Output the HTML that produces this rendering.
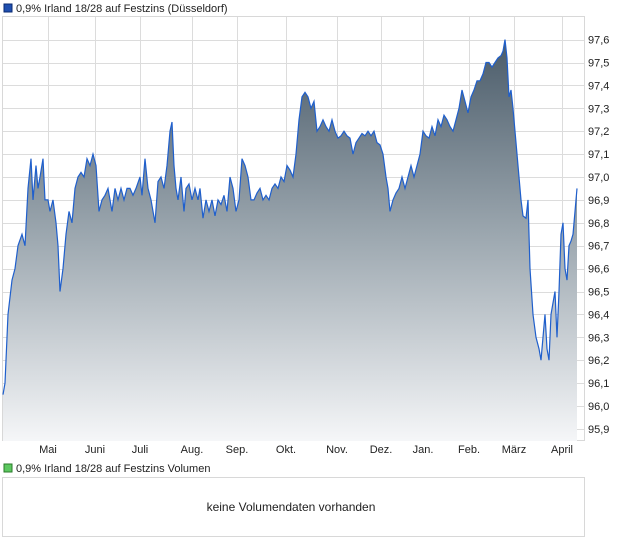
<!DOCTYPE html>
<html><head><meta charset="utf-8"><style>
body{margin:0;background:#fff;width:620px;height:546px;overflow:hidden;font-family:"Liberation Sans",sans-serif;}
svg text{font-family:"Liberation Sans",sans-serif;font-size:11px;fill:#222;}
</style></head><body>
<svg id="s" width="620" height="546" xmlns="http://www.w3.org/2000/svg">
<defs><linearGradient id="g" x1="0" y1="39" x2="0" y2="441" gradientUnits="userSpaceOnUse">
<stop offset="0" stop-color="#4a5b69"/><stop offset="0.5" stop-color="#9ea9b1"/><stop offset="1" stop-color="#f5f6f8"/></linearGradient></defs>
<rect x="4" y="4" width="8" height="8" fill="#1f4fb0" stroke="#0a2a70" stroke-width="1"/>
<text x="16" y="12">0,9% Irland 18/28 auf Festzins (Düsseldorf)</text>
<g id="grid" stroke="#dcdcdc" stroke-width="1"></g>
<rect x="2.5" y="16.5" width="582" height="424" fill="none" stroke="#d8d8d8"/>
<path id="area" fill="url(#g)"/>
<path id="line" fill="none" stroke="#1f5fcc" stroke-width="1.2"/>
<g id="yl"></g>
<g id="xl"></g>
<rect x="4" y="464" width="8" height="8" fill="#5cc860" stroke="#2a7a2a" stroke-width="1"/>
<text x="16" y="472">0,9% Irland 18/28 auf Festzins Volumen</text>
<rect x="2.5" y="477.5" width="582" height="59" fill="#fff" stroke="#d8d8d8"/>
<text x="291" y="511" text-anchor="middle" style="font-size:12px">keine Volumendaten vorhanden</text>
</svg>
<script>
var d=[3,96.05,5,96.1,8,96.4,12,96.55,15,96.6,18,96.7,22,96.75,25,96.7,28,96.95,31,97.08,33,96.9,36,97.05,38,96.95,40,97.0,43,97.08,45,96.9,48,96.9,50,96.85,53,96.9,56,96.8,58,96.7,60,96.5,63,96.6,66,96.75,69,96.85,72,96.8,75,96.95,78,97.0,81,97.02,84,97.0,87,97.08,90,97.05,93,97.1,96,97.05,99,96.85,102,96.9,105,96.92,108,96.95,112,96.85,115,96.95,118,96.9,121,96.95,124,96.9,127,96.95,130,96.95,133,96.92,136,96.95,140,97.0,142,96.92,145,97.08,148,96.95,151,96.9,153,96.85,155,96.8,158,96.98,161,97.0,164,96.95,167,97.05,170,97.2,172,97.24,174,97.05,176,96.95,178,96.9,181,97.0,184,96.85,186,96.95,189,96.97,192,96.9,195,96.95,198,96.9,200,96.95,203,96.82,206,96.9,209,96.85,212,96.9,215,96.83,218,96.9,221,96.88,224,96.92,227,96.85,230,97.0,233,96.95,236,96.85,239,96.9,242,97.08,245,97.05,248,97.0,251,96.9,254,96.9,257,96.93,260,96.95,263,96.9,266,96.92,269,96.9,272,96.95,275,96.97,278,96.95,281,97.0,284,96.98,287,97.05,290,97.03,293,97.0,296,97.1,299,97.25,302,97.35,305,97.37,308,97.35,311,97.3,314,97.33,317,97.2,320,97.22,323,97.25,326,97.22,329,97.2,332,97.25,335,97.2,338,97.17,341,97.18,344,97.2,347,97.18,350,97.17,353,97.1,356,97.15,359,97.17,362,97.19,365,97.18,368,97.2,371,97.18,374,97.2,377,97.15,380,97.14,383,97.1,386,97.0,388,96.95,390,96.85,393,96.9,396,96.93,399,96.95,402,97.0,405,96.95,408,97.0,411,97.05,414,97.0,417,97.05,420,97.1,423,97.2,426,97.18,429,97.17,432,97.22,435,97.18,438,97.25,441,97.22,444,97.27,447,97.25,450,97.22,453,97.2,456,97.25,459,97.3,462,97.38,465,97.33,468,97.28,471,97.35,474,97.38,477,97.42,480,97.42,483,97.45,486,97.5,489,97.5,492,97.48,495,97.5,498,97.52,501,97.53,503,97.55,505,97.6,507,97.52,509,97.35,511,97.38,513,97.3,515,97.2,517,97.1,519,97.0,521,96.9,523,96.83,526,96.82,528,96.9,530,96.6,533,96.4,536,96.3,539,96.25,541,96.2,543,96.3,545,96.4,547,96.25,549,96.2,551,96.4,553,96.45,555,96.5,557,96.3,559,96.5,561,96.75,563,96.8,565,96.6,567,96.55,569,96.7,571,96.72,573,96.75,575,96.85,577,96.95];
function Y(v){return 177-(v-97.0)*229;}
var p="";for(var i=0;i<d.length;i+=2){p+=(i?"L":"M")+d[i]+" "+Y(d[i+1]).toFixed(1);}
document.getElementById("line").setAttribute("d",p);
document.getElementById("area").setAttribute("d",p+"L577 441L3 441Z");
var ns="http://www.w3.org/2000/svg",g=document.getElementById("grid"),yl=document.getElementById("yl"),xl=document.getElementById("xl");
var xs=[48,95,140,192,237,286,337,381,423,469,514,562],ms=["Mai","Juni","Juli","Aug.","Sep.","Okt.","Nov.","Dez.","Jan.","Feb.","März","April"];
xs.forEach(function(x,i){var l=document.createElementNS(ns,"line");l.setAttribute("x1",x+.5);l.setAttribute("x2",x+.5);l.setAttribute("y1",16);l.setAttribute("y2",441);g.appendChild(l);
var t=document.createElementNS(ns,"text");t.setAttribute("x",x);t.setAttribute("y",453);t.setAttribute("text-anchor","middle");t.textContent=ms[i];xl.appendChild(t);});
for(var k=0;k<=17;k++){var v=95.9+k*0.1;var y=Y(v);if(y<20)break;var l=document.createElementNS(ns,"line");l.setAttribute("x1",2);l.setAttribute("x2",585);l.setAttribute("y1",Math.round(y)+.5);l.setAttribute("y2",Math.round(y)+.5);g.appendChild(l);
var t=document.createElementNS(ns,"text");t.setAttribute("x",588);t.setAttribute("y",y+4);t.textContent=v.toFixed(1).replace(".",",");yl.appendChild(t);}
</script>
</body></html>
